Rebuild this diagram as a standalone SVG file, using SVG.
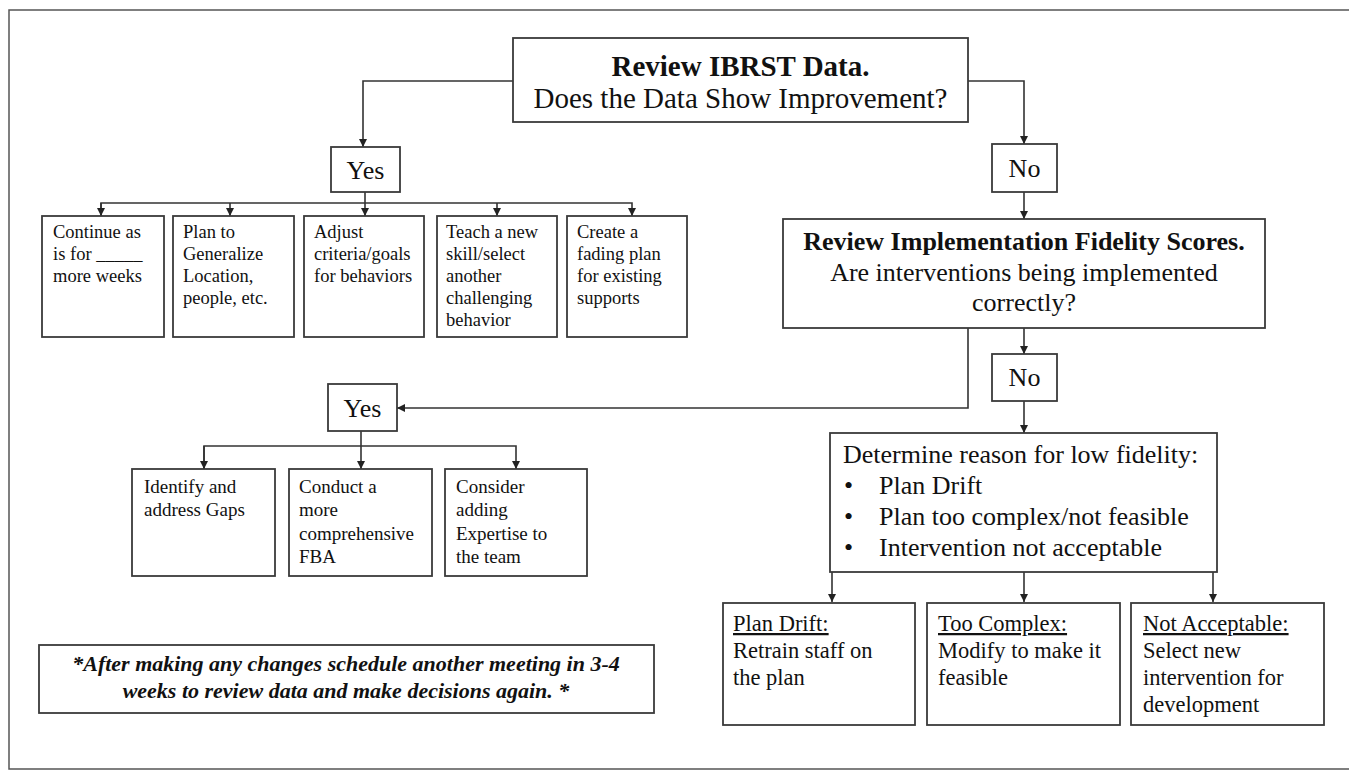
<svg xmlns="http://www.w3.org/2000/svg" width="1349" height="771" viewBox="0 0 1349 771">
<style>
  .box { fill: #fff; stroke: #3a3a3a; stroke-width: 1.8; }
  .frame { fill: #fff; stroke: #555; stroke-width: 1.5; }
  .con { fill: none; stroke: #333; stroke-width: 1.6; }
  text { font-family: "Liberation Serif", "Times New Roman", serif; fill: #111; }
  .hd { font-size: 29px; }
  .fid { font-size: 26px; }
  .yn { font-size: 26px; text-anchor: middle; }
  .sm { font-size: 18.5px; }
  .md { font-size: 19px; }
  .lg { font-size: 22.5px; }
  .note { font-size: 22px; font-style: italic; font-weight: bold; text-anchor: middle; }
  .b { font-weight: bold; }
  .c { text-anchor: middle; }
  .u { text-decoration: underline; }
</style>
<defs>
  <marker id="arr" viewBox="0 0 10 10" refX="10" refY="5" markerWidth="8" markerHeight="8" markerUnits="userSpaceOnUse" orient="auto">
    <path d="M0,0 L10,5 L0,10 z" fill="#222"/>
  </marker>
</defs>
<rect class="frame" x="9" y="10" width="1345" height="759"/>

<g id="connectors">
  <path class="con" d="M513,81 H363 V147" marker-end="url(#arr)"/>
  <path class="con" d="M968,81 H1024 V144" marker-end="url(#arr)"/>
  <path class="con" d="M365,192 V216" marker-end="url(#arr)"/>
  <path class="con" d="M101,216 V203 H632 V216" marker-end="url(#arr)"/>
  <path class="con" d="M101,203 V216" marker-end="url(#arr)"/>
  <path class="con" d="M230,203 V216" marker-end="url(#arr)"/>
  <path class="con" d="M497,203 V216" marker-end="url(#arr)"/>
  <path class="con" d="M1024,192 V219" marker-end="url(#arr)"/>
  <path class="con" d="M1024,328 V354" marker-end="url(#arr)"/>
  <path class="con" d="M968,328 V408 H397" marker-end="url(#arr)"/>
  <path class="con" d="M361,431 V469" marker-end="url(#arr)"/>
  <path class="con" d="M204,469 V446 H516 V469" marker-end="url(#arr)"/>
  <path class="con" d="M204,446 V469" marker-end="url(#arr)"/>
  <path class="con" d="M1024,401 V433" marker-end="url(#arr)"/>
  <path class="con" d="M832,572 V602" marker-end="url(#arr)"/>
  <path class="con" d="M1024,572 V602" marker-end="url(#arr)"/>
  <path class="con" d="M1213,572 V602" marker-end="url(#arr)"/>
</g>

<g id="review-data">
  <rect class="box" x="513" y="38" width="455" height="84"/>
  <text class="hd b c" x="740.5" y="76">Review IBRST Data.</text>
  <text class="hd c" x="740.5" y="108">Does the Data Show Improvement?</text>
</g>

<g id="yes1">
  <rect class="box" x="331" y="147" width="69" height="45"/>
  <text class="yn" x="365.5" y="179">Yes</text>
</g>

<g id="no1">
  <rect class="box" x="992" y="144" width="65" height="48"/>
  <text class="yn" x="1024.5" y="177">No</text>
</g>

<g id="continue">
  <rect class="box" x="42" y="216" width="122" height="121"/>
  <text class="sm" x="53"><tspan x="53" y="238">Continue as</tspan><tspan x="53" y="260">is for _____</tspan><tspan x="53" y="282">more weeks</tspan></text>
</g>
<g id="generalize">
  <rect class="box" x="173" y="216" width="121" height="121"/>
  <text class="sm"><tspan x="183" y="238">Plan to</tspan><tspan x="183" y="260">Generalize</tspan><tspan x="183" y="282">Location,</tspan><tspan x="183" y="304">people, etc.</tspan></text>
</g>
<g id="adjust">
  <rect class="box" x="304" y="216" width="120" height="121"/>
  <text class="sm"><tspan x="314" y="238">Adjust</tspan><tspan x="314" y="260">criteria/goals</tspan><tspan x="314" y="282">for behaviors</tspan></text>
</g>
<g id="teach">
  <rect class="box" x="437" y="216" width="120" height="121"/>
  <text class="sm"><tspan x="446" y="238">Teach a new</tspan><tspan x="446" y="260">skill/select</tspan><tspan x="446" y="282">another</tspan><tspan x="446" y="304">challenging</tspan><tspan x="446" y="326">behavior</tspan></text>
</g>
<g id="fading">
  <rect class="box" x="567" y="216" width="120" height="121"/>
  <text class="sm"><tspan x="577" y="238">Create a</tspan><tspan x="577" y="260">fading plan</tspan><tspan x="577" y="282">for existing</tspan><tspan x="577" y="304">supports</tspan></text>
</g>

<g id="fidelity">
  <rect class="box" x="783" y="219" width="482" height="109"/>
  <text class="fid b c" x="1024" y="250">Review Implementation Fidelity Scores.</text>
  <text class="fid c" x="1024" y="281">Are interventions being implemented</text>
  <text class="fid c" x="1024" y="311">correctly?</text>
</g>

<g id="no2">
  <rect class="box" x="992" y="354" width="65" height="47"/>
  <text class="yn" x="1024.5" y="386">No</text>
</g>

<g id="yes2">
  <rect class="box" x="328" y="384" width="69" height="47"/>
  <text class="yn" x="362.5" y="417">Yes</text>
</g>

<g id="gaps">
  <rect class="box" x="132" y="469" width="143" height="107"/>
  <text class="md"><tspan x="144" y="493">Identify and</tspan><tspan x="144" y="516">address Gaps</tspan></text>
</g>
<g id="fba">
  <rect class="box" x="289" y="469" width="143" height="107"/>
  <text class="md"><tspan x="299" y="493">Conduct a</tspan><tspan x="299" y="516">more</tspan><tspan x="299" y="540">comprehensive</tspan><tspan x="299" y="563">FBA</tspan></text>
</g>
<g id="expertise">
  <rect class="box" x="445" y="469" width="142" height="107"/>
  <text class="md"><tspan x="456" y="493">Consider</tspan><tspan x="456" y="516">adding</tspan><tspan x="456" y="540">Expertise to</tspan><tspan x="456" y="563">the team</tspan></text>
</g>

<g id="determine">
  <rect class="box" x="830" y="433" width="387" height="139"/>
  <text class="fid" x="843" y="463">Determine reason for low fidelity:</text>
  <text class="fid" x="844" y="494">•</text><text class="fid" x="879" y="494">Plan Drift</text>
  <text class="fid" x="844" y="525">•</text><text class="fid" x="879" y="525">Plan too complex/not feasible</text>
  <text class="fid" x="844" y="556">•</text><text class="fid" x="879" y="556">Intervention not acceptable</text>
</g>

<g id="plan-drift">
  <rect class="box" x="723" y="603" width="192" height="122"/>
  <text class="lg"><tspan class="u" x="733" y="631">Plan Drift:</tspan><tspan x="733" y="658">Retrain staff on</tspan><tspan x="733" y="685">the plan</tspan></text>
</g>
<g id="too-complex">
  <rect class="box" x="927" y="603" width="193" height="122"/>
  <text class="lg"><tspan class="u" x="938" y="631">Too Complex:</tspan><tspan x="938" y="658">Modify to make it</tspan><tspan x="938" y="685">feasible</tspan></text>
</g>
<g id="not-acceptable">
  <rect class="box" x="1131" y="603" width="193" height="122"/>
  <text class="lg"><tspan class="u" x="1143" y="631">Not Acceptable:</tspan><tspan x="1143" y="658">Select new</tspan><tspan x="1143" y="685">intervention for</tspan><tspan x="1143" y="712">development</tspan></text>
</g>

<g id="note">
  <rect class="box" x="39" y="645" width="615" height="68"/>
  <text class="note" x="346" y="671">*After making any changes schedule another meeting in 3-4</text>
  <text class="note" x="346" y="698">weeks to review data and make decisions again. *</text>
</g>
</svg>
